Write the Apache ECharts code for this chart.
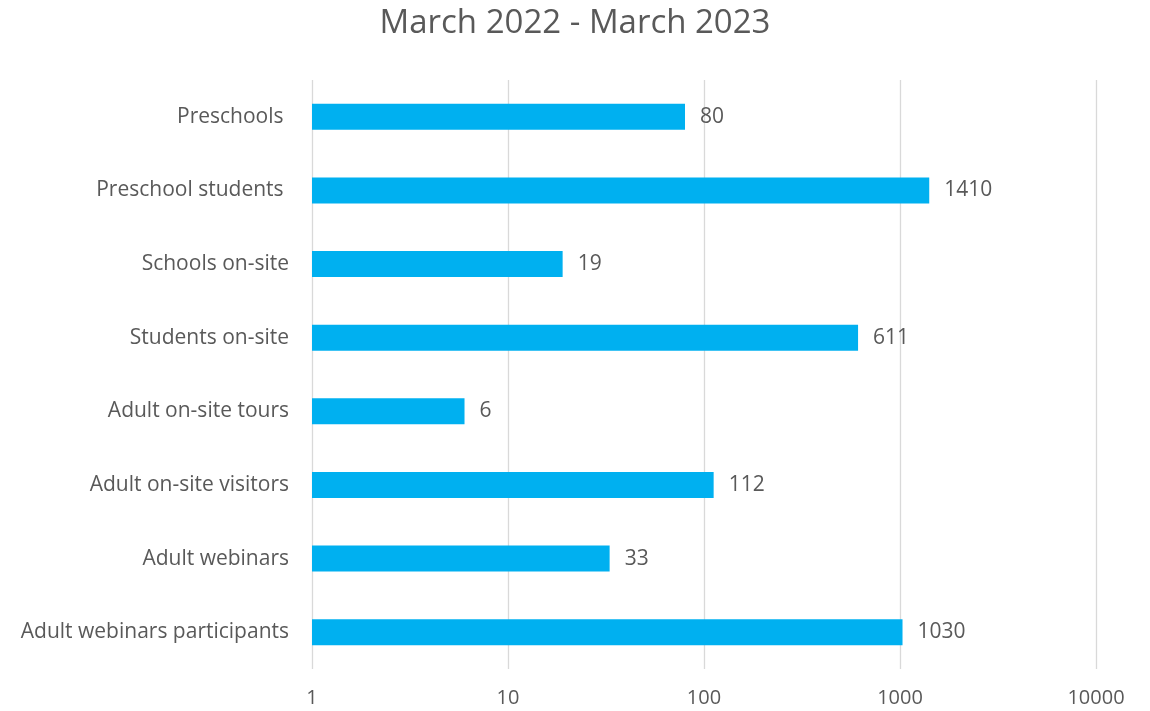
<!DOCTYPE html>
<html>
<head>
<meta charset="utf-8">
<script src="https://cdn.jsdelivr.net/npm/echarts@6/dist/echarts.min.js"></script>
<style>
html,body{margin:0;padding:0;background:#fff;}
#c{width:1150px;height:711px;}
</style>
</head>
<body>
<div id="c"></div>
<script>
const categories = ["Preschools ", "Preschool students ", "Schools on-site", "Students on-site", "Adult on-site tours", "Adult on-site visitors", "Adult webinars", "Adult webinars participants"];
const values = [80, 1410, 19, 611, 6, 112, 33, 1030];
const titleText = "March 2022 - March 2023";

const chart = echarts.init(document.getElementById('c'));
chart.setOption({
  animation: false,
  backgroundColor: '#fff',
  title: {
    text: titleText,
    left: 'center',
    top: 2,
    padding: [5, 5, 5, 13],
    textStyle: {fontFamily: 'Open Sans', fontSize: 33, fontWeight: 'normal', color: '#595959'}
  },
  grid: {left: 312, right: 54, top: 80, bottom: 42},
  xAxis: {
    type: 'log',
    logBase: 10,
    min: 1,
    max: 10000,
    axisLine: {show: false},
    axisTick: {show: false},
    splitLine: {show: true, lineStyle: {color: '#d9d9d9', width: 1.3}},
    axisLabel: {color: '#595959', fontFamily: 'Open Sans', fontSize: 20, margin: 19,
      formatter: function (v) { return String(v); }}
  },
  yAxis: {
    type: 'category',
    data: categories,
    inverse: true,
    axisLine: {show: false},
    axisTick: {show: false},
    axisLabel: {color: '#595959', fontFamily: 'Open Sans', fontSize: 21, margin: 23}
  },
  series: [{
    type: 'bar',
    data: values,
    barWidth: 26,
    itemStyle: {color: '#00b0f0'},
    label: {show: true, position: 'right', distance: 15, color: '#595959', fontFamily: 'Open Sans', fontSize: 21}
  }]
});
</script>
</body>
</html>
